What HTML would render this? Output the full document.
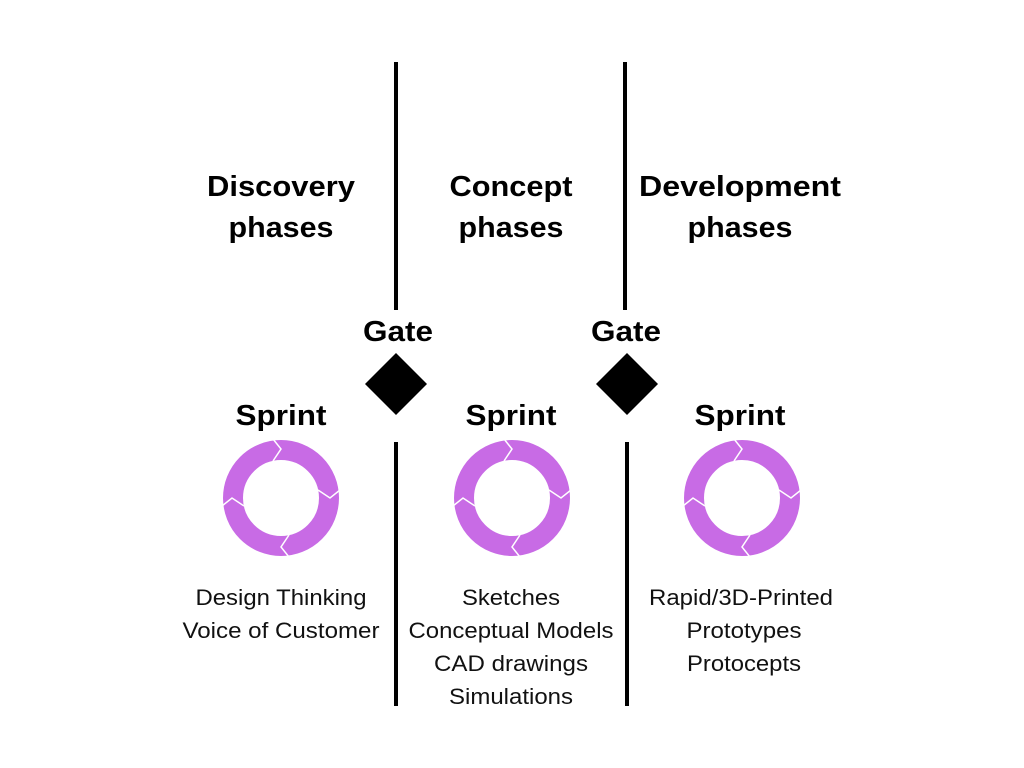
<!DOCTYPE html>
<html><head><style>
body{margin:0;width:1024px;height:768px;background:#fff;overflow:hidden}
svg{display:block}
</style></head><body>
<svg width="1024" height="768" xmlns="http://www.w3.org/2000/svg">
<g stroke="#000" stroke-width="4">
<line x1="396" y1="62" x2="396" y2="310"/>
<line x1="396" y1="442" x2="396" y2="706"/>
<line x1="625" y1="62" x2="625" y2="310"/>
<line x1="627" y1="442" x2="627" y2="706"/>
</g>
<polygon points="396,353 427,384 396,415 365,384" fill="#000"/>
<polygon points="627,353 658,384 627,415 596,384" fill="#000"/>
<g font-family="Liberation Sans, sans-serif" font-weight="bold" font-size="29" text-anchor="middle" fill="#000" lengthAdjust="spacingAndGlyphs">
<text x="281" y="196" textLength="148" lengthAdjust="spacingAndGlyphs">Discovery</text><text x="281" y="237" textLength="105" lengthAdjust="spacingAndGlyphs">phases</text>
<text x="511" y="196" textLength="123" lengthAdjust="spacingAndGlyphs">Concept</text><text x="511" y="237" textLength="105" lengthAdjust="spacingAndGlyphs">phases</text>
<text x="740" y="196" textLength="202" lengthAdjust="spacingAndGlyphs">Development</text><text x="740" y="237" textLength="105" lengthAdjust="spacingAndGlyphs">phases</text>
<text x="398" y="341" textLength="70" lengthAdjust="spacingAndGlyphs">Gate</text><text x="626" y="341" textLength="70" lengthAdjust="spacingAndGlyphs">Gate</text>
<text x="281" y="425" textLength="91" lengthAdjust="spacingAndGlyphs">Sprint</text><text x="511" y="425" textLength="91" lengthAdjust="spacingAndGlyphs">Sprint</text><text x="740" y="425" textLength="91" lengthAdjust="spacingAndGlyphs">Sprint</text>
</g>
<defs>
<g id="ring">
<circle r="48" fill="none" stroke="#c86be5" stroke-width="20"/>
<g stroke="#fff" stroke-width="1.5" fill="none">
<polyline points="-8,-59 0,-49 -8,-37"/>
<polyline points="59,-8 49,0 37,-8"/>
<polyline points="8,59 0,49 8,37"/>
<polyline points="-59,8 -49,0 -37,8"/>
</g>
</g>
</defs>
<use href="#ring" x="281" y="498"/>
<use href="#ring" x="512" y="498"/>
<use href="#ring" x="742" y="498"/>
<g font-family="Liberation Sans, sans-serif" font-size="22" text-anchor="middle" fill="#111">
<text x="281" y="605" textLength="171" lengthAdjust="spacingAndGlyphs">Design Thinking</text><text x="281" y="638" textLength="197" lengthAdjust="spacingAndGlyphs">Voice of Customer</text>
<text x="511" y="605" textLength="98" lengthAdjust="spacingAndGlyphs">Sketches</text><text x="511" y="638" textLength="205" lengthAdjust="spacingAndGlyphs">Conceptual Models</text>
<text x="511" y="671" textLength="154" lengthAdjust="spacingAndGlyphs">CAD drawings</text><text x="511" y="704" textLength="124" lengthAdjust="spacingAndGlyphs">Simulations</text>
<text x="741" y="605" textLength="184" lengthAdjust="spacingAndGlyphs">Rapid/3D-Printed</text><text x="744" y="638" textLength="115" lengthAdjust="spacingAndGlyphs">Prototypes</text><text x="744" y="671" textLength="114" lengthAdjust="spacingAndGlyphs">Protocepts</text>
</g>
</svg>
</body></html>
